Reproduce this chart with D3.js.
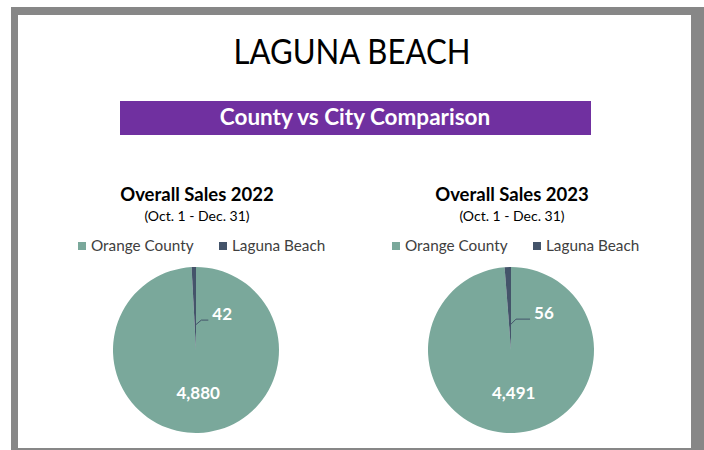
<!DOCTYPE html>
<html>
<head>
<meta charset="utf-8">
<script src="https://cdn.jsdelivr.net/npm/d3@7"></script>
<style>
  body { margin: 0; background: #fff; }
  svg { display: block; font-family: Lato, "Open Sans", sans-serif; }
</style>
</head>
<body>
<div id="chart"></div>
<script>
// data
var categories = ["Orange County", "Laguna Beach"];
var chartTitles = ["Overall Sales 2022", "Overall Sales 2023"];
var periods = ["(Oct. 1 - Dec. 31)", "(Oct. 1 - Dec. 31)"];
var sales2022 = [4880, 42];
var sales2023 = [4491, 56];

var W = 704, H = 450;
var colors = ["#7aa89b", "#44546a"];

var svg = d3.select("#chart").append("svg")
  .attr("width", W).attr("height", H);

// gray frame
svg.append("rect").attr("x", 11).attr("y", 7).attr("width", W - 11).attr("height", H - 7)
  .attr("fill", "#878787");
svg.append("rect").attr("x", 18).attr("y", 15).attr("width", 673).attr("height", 433)
  .attr("fill", "#fff");

svg.append("text")
  .attr("x", 352).attr("y", 64)
  .attr("text-anchor", "middle")
  .attr("font-size", "34px")
  .attr("textLength", 237).attr("lengthAdjust", "spacingAndGlyphs")
  .attr("fill", "#000")
  .text("LAGUNA BEACH");

// purple banner
svg.append("rect").attr("x", 120).attr("y", 101).attr("width", 471).attr("height", 34)
  .attr("fill", "#7030a0");
svg.append("text")
  .attr("x", 355).attr("y", 125)
  .attr("text-anchor", "middle")
  .attr("font-size", "22.5px").attr("font-weight", "bold")
  .attr("fill", "#fff")
  .text("County vs City Comparison");

var pies = [
  {cx: 196, values: sales2022, title: chartTitles[0], period: periods[0], legendX: 78, lab: [15, -5]},
  {cx: 511, values: sales2023, title: chartTitles[1], period: periods[1], legendX: 392, lab: [22, -6]}
];
var cy = 350, r = 83;

var pie = d3.pie().sort(null).value(function(d){ return d; });
var arc = d3.arc().innerRadius(0).outerRadius(r);
var fmt = d3.format(",");

pies.forEach(function(p) {
  var g = svg.append("g");

  g.append("text")
    .attr("x", p.cx + 1).attr("y", 201)
    .attr("text-anchor", "middle")
    .attr("font-size", "18.5px").attr("font-weight", "bold")
    .text(p.title);
  g.append("text")
    .attr("x", p.cx + 1).attr("y", 221)
    .attr("text-anchor", "middle")
    .attr("font-size", "14px")
    .text(p.period);

  // legend
  var lx = p.legendX;
  categories.forEach(function(c, i) {
    var x0 = lx + i * 141;
    g.append("rect").attr("x", x0).attr("y", 242).attr("width", 8).attr("height", 8)
      .attr("fill", colors[i]);
    g.append("text").attr("x", x0 + 13).attr("y", 251)
      .attr("font-size", "15.3px").attr("fill", "#404040")
      .text(c);
  });

  var slices = pie(p.values);
  var pg = g.append("g").attr("transform", "translate(" + p.cx + "," + cy + ")");
  pg.selectAll("path")
    .data(slices)
    .enter().append("path")
    .attr("d", arc)
    .attr("fill", function(d, i){ return colors[i]; });

  // big slice label
  var big = slices[0];
  var bigArc = d3.arc().innerRadius(0).outerRadius(r * 1.02);
  var c0 = bigArc.centroid(big);
  pg.append("text")
    .attr("x", c0[0] + 1).attr("y", c0[1] + 7)
    .attr("text-anchor", "middle")
    .attr("font-size", "17px").attr("font-weight", "bold")
    .attr("fill", "#fff")
    .text(fmt(big.value));

  // small slice label with leader line
  var sm = slices[1];
  var a = (sm.startAngle + sm.endAngle) / 2;
  var ax = Math.sin(a) * r * 0.3, ay = -Math.cos(a) * r * 0.3;
  var tx = ax + p.lab[0], ty = ay + p.lab[1];
  pg.append("path")
    .attr("d", "M" + ax + "," + ay + "L" + (ax + 6) + "," + (ty) + "L" + (tx - 2) + "," + ty)
    .attr("fill", "none").attr("stroke", "#44546a").attr("stroke-width", 1);
  pg.append("text")
    .attr("x", tx + 2).attr("y", ty)
    .attr("font-size", "17px").attr("font-weight", "bold")
    .attr("fill", "#fff")
    .text(fmt(sm.value));
});
</script>
</body>
</html>
